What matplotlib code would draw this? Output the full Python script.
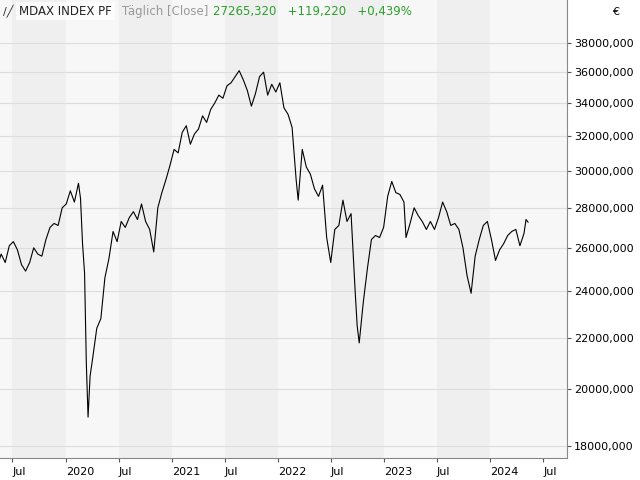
import matplotlib
matplotlib.use('Agg')
import matplotlib.pyplot as plt
import numpy as np
import pandas as pd
from matplotlib.ticker import FixedLocator, FuncFormatter, NullLocator

# MDAX index, approximate closes
dates = pd.to_datetime([
    '2019-05-10', '2019-05-24', '2019-06-07', '2019-06-21', '2019-07-05', '2019-07-19', '2019-08-02',
    '2019-08-16', '2019-08-30', '2019-09-13', '2019-09-27', '2019-10-11', '2019-10-25', '2019-11-08',
    '2019-11-22', '2019-12-06', '2019-12-20', '2020-01-03', '2020-01-17', '2020-01-31', '2020-02-14',
    '2020-02-21', '2020-02-28', '2020-03-06', '2020-03-12', '2020-03-18', '2020-03-25', '2020-04-03',
    '2020-04-17', '2020-05-01', '2020-05-15', '2020-05-29', '2020-06-12', '2020-06-26', '2020-07-10',
    '2020-07-24', '2020-08-07', '2020-08-21', '2020-09-04', '2020-09-18', '2020-10-02', '2020-10-16',
    '2020-10-30', '2020-11-13', '2020-11-27', '2020-12-11', '2020-12-25', '2021-01-08', '2021-01-22',
    '2021-02-05', '2021-02-19', '2021-03-05', '2021-03-19', '2021-04-02', '2021-04-16', '2021-04-30',
    '2021-05-14', '2021-05-28', '2021-06-11', '2021-06-25', '2021-07-09', '2021-07-23', '2021-08-06',
    '2021-08-20', '2021-09-03', '2021-09-17', '2021-10-01', '2021-10-15', '2021-10-29', '2021-11-12',
    '2021-11-26', '2021-12-10', '2021-12-24', '2022-01-07', '2022-01-21', '2022-02-04', '2022-02-18',
    '2022-03-04', '2022-03-11', '2022-03-25', '2022-04-08', '2022-04-22', '2022-05-06', '2022-05-20',
    '2022-06-03', '2022-06-17', '2022-07-01', '2022-07-15', '2022-07-29', '2022-08-12', '2022-08-26',
    '2022-09-09', '2022-09-23', '2022-09-30', '2022-10-07', '2022-10-21', '2022-11-04', '2022-11-18',
    '2022-12-02', '2022-12-16', '2022-12-30', '2023-01-13', '2023-01-27', '2023-02-10', '2023-02-24',
    '2023-03-10', '2023-03-17', '2023-03-31', '2023-04-14', '2023-04-28', '2023-05-12', '2023-05-26',
    '2023-06-09', '2023-06-23', '2023-07-07', '2023-07-21', '2023-08-04', '2023-08-18', '2023-09-01',
    '2023-09-15', '2023-09-29', '2023-10-13', '2023-10-27', '2023-11-10', '2023-11-24', '2023-12-08',
    '2023-12-22', '2024-01-05', '2024-01-19', '2024-02-02', '2024-02-16', '2024-03-01', '2024-03-15',
    '2024-03-29', '2024-04-12', '2024-04-26', '2024-05-03', '2024-05-10',
])
closes = [
    25100, 25700, 25300, 26100, 26300, 25900, 25200,
    24900, 25300, 26000, 25700, 25600, 26400, 27000,
    27200, 27100, 28000, 28200, 28900, 28300, 29300,
    28500, 26200, 24800, 21000, 19000, 20500, 21200,
    22400, 22800, 24600, 25500, 26800, 26300, 27300,
    27000, 27500, 27800, 27400, 28200, 27300, 26900,
    25800, 28000, 28800, 29500, 30300, 31200, 31000,
    32200, 32600, 31500, 32100, 32400, 33200, 32800,
    33600, 34000, 34500, 34300, 35100, 35300, 35700,
    36100, 35500, 34800, 33800, 34600, 35700, 36000,
    34500, 35200, 34700, 35300, 33700, 33300, 32500,
    29500, 28400, 31200, 30200, 29800, 29000, 28600,
    29200, 26500, 25300, 26900, 27100, 28400, 27300,
    27700, 24000, 22500, 21800, 23500, 25000, 26400,
    26600, 26500, 27000, 28600, 29400, 28800, 28700,
    28300, 26500, 27200, 28000, 27600, 27300, 26900,
    27300, 26900, 27500, 28300, 27800, 27100, 27200,
    26900, 26000, 24700, 23900, 25600, 26400, 27100,
    27300, 26400, 25400, 25900, 26200, 26600, 26800,
    26900, 26100, 26700, 27400, 27265,
]
ytick_vals = [18000, 20000, 22000, 24000, 26000, 28000, 30000, 32000, 34000, 36000, 38000]
xtick_dates = pd.to_datetime(['2019-07-01', '2020-01-01', '2020-07-01', '2021-01-01', '2021-07-01',
                              '2022-01-01', '2022-07-01', '2023-01-01', '2023-07-01', '2024-01-01',
                              '2024-07-01'])
xtick_labels = ['Jul', '2020', 'Jul', '2021', 'Jul', '2022', 'Jul', '2023', 'Jul', '2024', 'Jul']

fig = plt.figure(figsize=(6.4, 4.8), dpi=100)
ax = fig.add_axes([0.0, 0.045, 567 / 640, 0.955])
ax.set_facecolor('#f7f7f7')

# alternating half-year background bands
for i in range(len(xtick_dates) - 1):
    if xtick_labels[i] == 'Jul':
        ax.axvspan(xtick_dates[i], xtick_dates[i + 1], color='#efefef', lw=0, zorder=0)

ax.set_yscale('log')
ax.set_ylim(17600, 41150)
ax.set_xlim(pd.Timestamp('2019-05-20'), pd.Timestamp('2024-09-21'))
for v in ytick_vals:
    ax.axhline(v, color='#dddddd', lw=0.8, zorder=1)

ax.plot(dates, closes, color='black', lw=0.8, zorder=3)

ax.yaxis.tick_right()
ax.yaxis.set_major_locator(FixedLocator(ytick_vals))
ax.yaxis.set_minor_locator(NullLocator())
ax.yaxis.set_major_formatter(FuncFormatter(lambda v, p: f'{int(v)},000'))
ax.set_xticks(xtick_dates)
ax.set_xticklabels(xtick_labels, ha='left')
ax.tick_params(labelsize=8, length=3, color='#555555')
ax.tick_params(axis='y', pad=2)
for s in ['left', 'top']:
    ax.spines[s].set_visible(False)
ax.spines['right'].set_color('#888888')
ax.spines['bottom'].set_color('#888888')

fig.text(0.957, 0.985, '€', fontsize=8, va='top')
fig.text(0.005, 0.977, '/\u2571', fontsize=8, va='center', color='#333333')
fig.text(0.03, 0.977, 'MDAX INDEX PF', fontsize=8.5, va='center', color='#222222',
         bbox=dict(facecolor='white', edgecolor='none', pad=2, alpha=0.8))
fig.text(0.19, 0.977, 'Täglich [Close]', fontsize=8.5, va='center', color='#999999')
fig.text(0.333, 0.977, '27265,320   +119,220   +0,439%', fontsize=8.5, va='center', color='#2ca02c')

fig.savefig('out.png', dpi=100)
